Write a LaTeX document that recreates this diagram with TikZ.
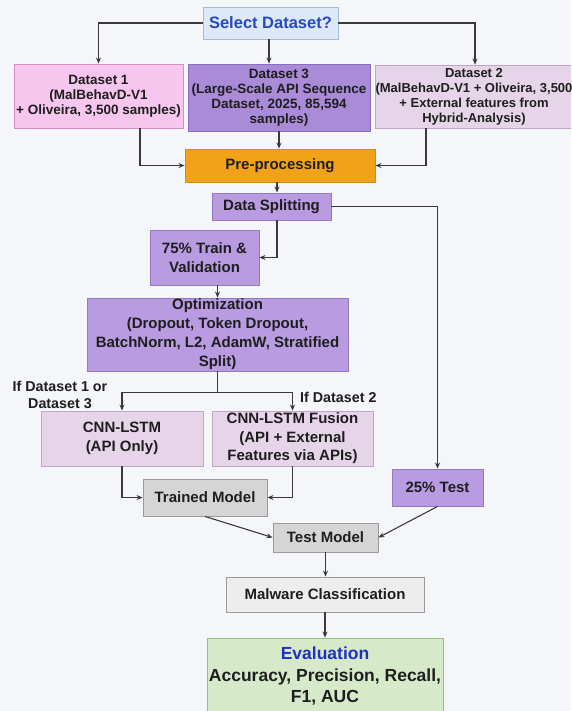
\documentclass[tikz,border=0pt]{standalone}
\usepackage{fontspec}
\setmainfont{Liberation Sans}
\usetikzlibrary{arrows.meta}
\definecolor{bgc}{HTML}{F4F6F9}
\definecolor{linec}{HTML}{3A3A3A}
\definecolor{txtc}{HTML}{1E1E1E}
\definecolor{selfill}{HTML}{DDE9F8}
\definecolor{seldraw}{HTML}{9DBBDF}
\definecolor{seltxt}{HTML}{2649C0}
\definecolor{pinkfill}{HTML}{F7C6EE}
\definecolor{pinkdraw}{HTML}{D48FC8}
\definecolor{d3fill}{HTML}{A98BD8}
\definecolor{d3draw}{HTML}{8A6CC0}
\definecolor{mauvefill}{HTML}{E6D5E9}
\definecolor{mauvedraw}{HTML}{BFA6C8}
\definecolor{orfill}{HTML}{F0A318}
\definecolor{ordraw}{HTML}{D48C10}
\definecolor{purfill}{HTML}{B89BE0}
\definecolor{purdraw}{HTML}{9478C4}
\definecolor{grayfill}{HTML}{D5D5D5}
\definecolor{graydraw}{HTML}{9A9A9A}
\definecolor{ltgrayfill}{HTML}{EDEDED}
\definecolor{evfill}{HTML}{D6EACA}
\definecolor{evdraw}{HTML}{8FC27A}
\definecolor{evtxt}{HTML}{1E30C8}
\tikzset{
  box/.style={draw, rectangle, inner sep=0pt, align=center, line width=0.9pt, text=txtc,
    font=\bfseries\fontsize{15}{18.5}\selectfont},
  dsbox/.style={box, font=\bfseries\fontsize{13.5}{15}\selectfont},
  purbox/.style={box, fill=purfill, draw=purdraw},
  graybox/.style={box, fill=grayfill, draw=graydraw},
  conn/.style={draw=linec, line width=1.1pt},
  arr/.style={conn, -{Stealth[length=6pt,width=5pt]}},
  lbl/.style={inner sep=0pt, align=center, text=txtc, font=\bfseries\fontsize{14.3}{17}\selectfont}
}
\begin{document}
\begin{tikzpicture}[x=1pt,y=-1pt]
\useasboundingbox (0,0) rectangle (571,711);
\clip (0,0) rectangle (571,711);
\fill[bgc] (0,0) rectangle (571,711);

\node[box, fill=selfill, draw=seldraw, text=seltxt, minimum width=135pt, minimum height=32pt,
  font=\bfseries\fontsize{16.5}{19}\selectfont] (sel) at (270.5,23) {Select Dataset?};

\node[dsbox, fill=pinkfill, draw=pinkdraw, minimum width=169pt, minimum height=64pt] (d1) at (98.5,96)
  {Dataset 1\\(MalBehavD-V1\\+ Oliveira, 3,500 samples)};
\node[dsbox, fill=d3fill, draw=d3draw, minimum width=182pt, minimum height=67pt] (d3) at (279,97.5)
  {Dataset 3\\(Large-Scale API Sequence\\Dataset, 2025, 85,594\\samples)};
\node[dsbox, fill=mauvefill, draw=mauvedraw, minimum width=196pt, minimum height=63pt,
  font=\bfseries\fontsize{13}{15}\selectfont] (d2) at (474,96.5)
  {Dataset 2\\(MalBehavD-V1 + Oliveira, 3,500\\+ External features from\\Hybrid-Analysis)};

\node[box, fill=orfill, draw=ordraw, minimum width=190pt, minimum height=33pt] (pre) at (280,165.5) {Pre-processing};
\node[purbox, minimum width=119pt, minimum height=27pt] (split) at (271.5,206.5) {Data Splitting};
\node[purbox, minimum width=109pt, minimum height=55pt] (train) at (204.5,257.5) {75\% Train \&\\Validation};
\node[purbox, minimum width=261pt, minimum height=73pt, font=\bfseries\fontsize{15}{19}\selectfont] (opt) at (217.5,334.5)
  {Optimization\\(Dropout, Token Dropout,\\BatchNorm, L2, AdamW, Stratified\\Split)};

\node[box, fill=mauvefill, draw=mauvedraw, minimum width=162pt, minimum height=55pt] (cnn) at (122,438.5)
  {CNN-LSTM\\(API Only)};
\node[box, fill=mauvefill, draw=mauvedraw, minimum width=161pt, minimum height=55pt] (fus) at (292.5,438.5)
  {CNN-LSTM Fusion\\(API + External\\Features via APIs)};

\node[lbl] (lbl1) at (60,394.5) {If Dataset 1 or\\Dataset 3};
\node[lbl, anchor=west] (lbl2) at (300,397) {If Dataset 2};

\node[graybox, minimum width=124pt, minimum height=37pt] (trained) at (205,497.5) {Trained Model};
\node[purbox, minimum width=91pt, minimum height=37pt] (t25) at (437.5,487.5) {25\% Test};
\node[graybox, minimum width=105pt, minimum height=29pt] (testm) at (325.5,537.5) {Test Model};
\node[box, fill=ltgrayfill, draw=graydraw, minimum width=198pt, minimum height=35pt] (mal) at (325,594.5) {Malware Classification};
\node[box, fill=evfill, draw=evdraw, minimum width=236pt, minimum height=78pt] (eval) at (325,677) {};
\node[inner sep=0pt, align=center, text=txtc, font=\bfseries\fontsize{17.5}{21.5}\selectfont] (evtext) at (325,676.5)
  {\textcolor{evtxt}{Evaluation}\\Accuracy, Precision, Recall,\\F1, AUC};

% connectors
\draw[arr] (sel.west) -| (d1.north);
\draw[arr] ([xshift=-1.5pt]sel.south) -- ([xshift=-1.5pt]sel.south |- d3.north);
\draw[arr] (sel.east) -| ([xshift=1pt]d2.north);
\draw[arr] ([xshift=41.5pt]d1.south) |- (pre.west);
\draw[arr] (d3.south) -- (d3.south |- pre.north);
\draw[arr] ([xshift=-48pt]d2.south) |- (pre.east);
\draw[arr] ([xshift=-3pt]pre.south) -- ([xshift=-3pt]pre.south |- split.north);
\draw[arr] ([xshift=5.5pt]split.south) |- (train.east);
\draw[arr] (split.east) -| (t25.north);
\draw[arr] (opt.north |- train.south) -- (opt.north);
\draw[conn] (opt.south) -- ++(0,21) coordinate (br);
\draw[arr] (br) -| (cnn.north);
\draw[arr] (br) -| (fus.north);
\draw[arr] (cnn.south) |- (trained.west);
\draw[arr] (fus.south) |- (trained.east);
\draw[arr] (trained.south) -- (testm.west);
\draw[arr] (t25.south) -- (testm.east);
\draw[arr] (testm.south) -- (testm.south |- mal.north);
\draw[arr] (mal.south) -- (mal.south |- eval.north);
\end{tikzpicture}
\end{document}
